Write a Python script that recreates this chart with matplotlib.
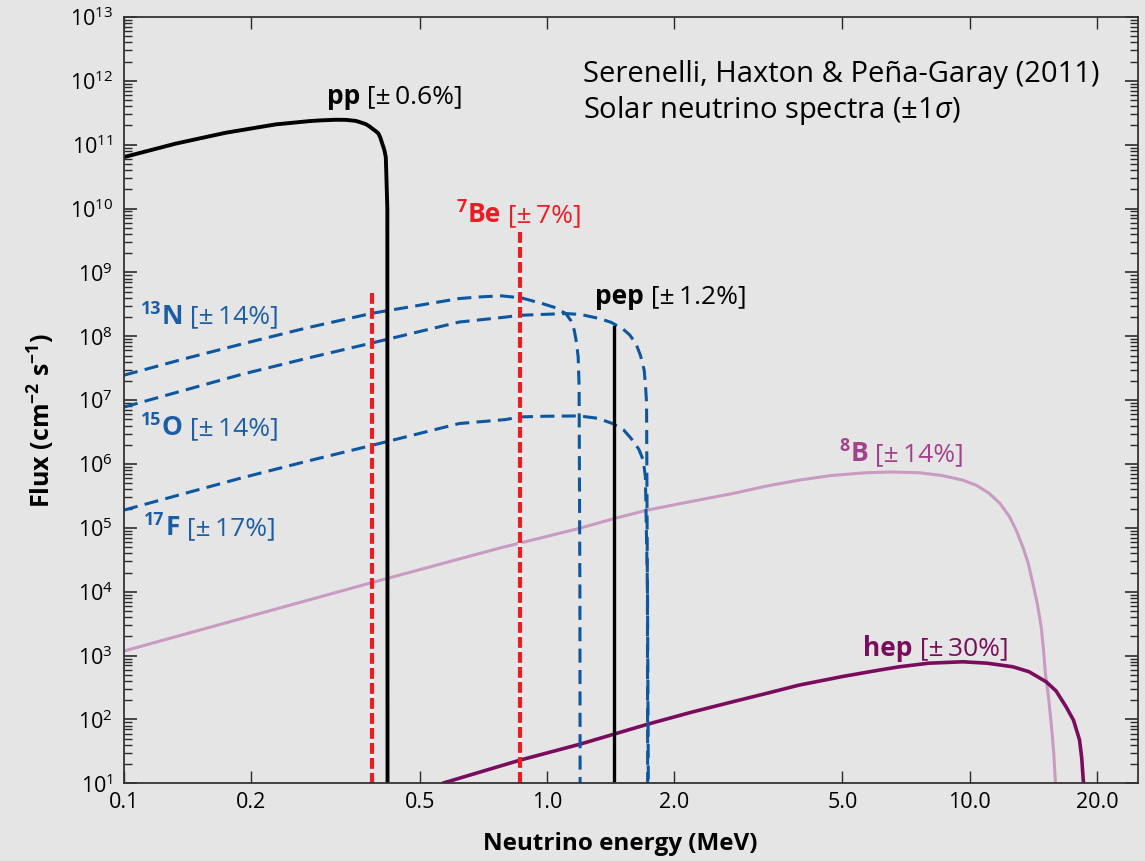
import numpy as np
import matplotlib
matplotlib.use("Agg")
import matplotlib.pyplot as plt
from matplotlib.ticker import FixedLocator, FixedFormatter, LogLocator, LogFormatterMathtext

plt.rcParams['font.family'] = ['Open Sans', 'DejaVu Sans']
plt.rcParams['mathtext.fontset'] = 'custom'
plt.rcParams['mathtext.rm'] = 'Open Sans'
plt.rcParams['mathtext.it'] = 'Open Sans:italic'
plt.rcParams['mathtext.bf'] = 'Open Sans:bold'

BG = '#e5e5e5'
BLUE = '#0d56a0'
BLUE_TXT = '#1a5ea8'
RED = '#ec1c24'
PINK = '#c99ac2'
PINK_TXT = '#a2418c'
HEP = '#7a0c5e'

pp_e = [0.1, 0.1325, 0.174, 0.2284, 0.274, 0.29, 0.3166, 0.335, 0.3532, 0.362, 0.373, 0.38,
        0.3868, 0.393, 0.3995, 0.404, 0.408, 0.4105, 0.413, 0.4145, 0.416, 0.4175, 0.4195, 0.42]
pp_f = [6.4e10, 1.04e11, 1.54e11, 2.08e11, 2.34e11, 2.4e11, 2.46e11, 2.45e11, 2.36e11, 2.25e11,
        2.1e11, 1.95e11, 1.78e11, 1.65e11, 1.5e11, 1.28e11, 1.04e11, 9.3e10, 8.1e10, 7.2e10,
        6.4e10, 3e10, 1e10, 1]

n13_e = [0.1, 0.14, 0.1905, 0.27, 0.387, 0.62, 0.70, 0.78, 0.87, 0.976, 1.04, 1.109, 1.14,
         1.161, 1.175, 1.186, 1.192, 1.197, 1.199]
n13_f = [2.46e7, 4.5e7, 7.6e7, 1.35e8, 2.3e8, 3.9e8, 4.15e8, 4.3e8, 4.0e8, 3.25e8, 2.85e8,
         2.27e8, 1.75e8, 1.24e8, 8e7, 4.7e7, 1.6e7, 1e4, 1]

o15_e = [0.1, 0.14, 0.1905, 0.27, 0.387, 0.62, 0.80, 0.86, 1.109, 1.2, 1.33, 1.42, 1.51, 1.57,
         1.624, 1.665, 1.699, 1.712, 1.721, 1.729, 1.732]
o15_f = [7.8e6, 1.45e7, 2.55e7, 4.5e7, 7.9e7, 1.67e8, 2.0e8, 2.13e8, 2.27e8, 2.2e8, 1.9e8,
         1.65e8, 1.32e8, 1.05e8, 7.7e7, 5e7, 2.94e7, 1.6e7, 8.9e6, 1e4, 1]

f17_e = [0.1, 0.14, 0.1905, 0.27, 0.387, 0.62, 0.80, 0.86, 1.0, 1.192, 1.32, 1.43, 1.52, 1.595,
         1.65, 1.69, 1.71, 1.73, 1.74]
f17_f = [1.9e5, 3.5e5, 6.1e5, 1.1e6, 1.97e6, 4.3e6, 4.97e6, 5.46e6, 5.6e6, 5.66e6, 5.2e6,
         4.3e6, 3.4e6, 2.36e6, 1.7e6, 1.15e6, 6.3e5, 1e4, 1]

b8_e = [0.1, 0.387, 0.771, 1.192, 1.443, 1.73, 2.2, 2.75, 3.3, 3.95, 4.7, 5.69, 6.5, 7.6, 8.6,
        9.63, 10.4, 11.13, 11.8, 12.42, 12.9, 13.35, 13.75, 14.1, 14.45, 14.76, 14.95, 15.1,
        15.35, 15.58, 15.8, 15.95, 16.1]
b8_f = [1.18e3, 1.4e4, 4.8e4, 9.8e4, 1.4e5, 1.9e5, 2.6e5, 3.45e5, 4.5e5, 5.6e5, 6.6e5, 7.3e5,
        7.5e5, 7.3e5, 6.6e5, 5.6e5, 4.6e5, 3.45e5, 2.4e5, 1.49e5, 9e4, 5.05e4, 2.8e4, 1.35e4,
        6.5e3, 2.8e3, 1.2e3, 525, 230, 87, 30, 10, 1]

hep_e = [0.566, 0.863, 1.198, 1.443, 1.74, 2.2, 2.75, 3.3, 3.95, 5.0, 6.11, 6.82, 8.0, 9.63,
         11.0, 12.64, 13.8, 15.16, 16.0, 16.9, 17.6, 18.18, 18.4, 18.58, 18.7]
hep_f = [10, 23, 41, 59, 85, 130, 189, 255, 345, 470, 593, 668, 760, 800, 760, 668, 560, 389,
         280, 158, 97, 48, 25, 10, 1]

# line sources: energy and top of the line
be7_e = [0.3855, 0.862]
be7_top = [4.8e8, 4.3e9]
pep_e = 1.442
pep_top = 1.4e8

xticks = [0.1, 0.2, 0.5, 1.0, 2.0, 5.0, 10.0, 20.0]
xticklabels = ['0.1', '0.2', '0.5', '1.0', '2.0', '5.0', '10.0', '20.0']

fig = plt.figure(figsize=(11.45, 8.61), dpi=100, facecolor=BG)
ax = fig.add_axes([124 / 1145, 77.7 / 861, 1014 / 1145, 766.3 / 861])
ax.set_facecolor(BG)
ax.set_xscale('log')
ax.set_yscale('log')
ax.set_xlim(0.1, 25)
ax.set_ylim(10, 1e13)

dash = (4.6, 2.4)
ax.plot(b8_e, b8_f, color=PINK, lw=2.2, solid_capstyle='butt', solid_joinstyle='round')
ax.plot(hep_e, hep_f, color=HEP, lw=2.6, solid_capstyle='butt', solid_joinstyle='round')
for e_, f_ in [(n13_e, n13_f), (o15_e, o15_f), (f17_e, f17_f)]:
    ax.plot(e_, f_, color=BLUE, lw=2.2, dashes=dash)
for e, top in zip(be7_e, be7_top):
    ax.plot([e, e], [top, 1], color=RED, lw=3.0, dashes=(2.6, 1.0), gapcolor='#f3eeee')
ax.plot([pep_e, pep_e], [pep_top, 1], color='black', lw=2.4)
ax.plot(pp_e, pp_f, color='black', lw=2.8, solid_joinstyle='round')


def tag(x, y, sup, name, rest, color, size=19):
    """Label written as superscript + bold name + regular bracket, on one baseline."""
    prev = None
    if sup:
        prev = ax.annotate(sup, xy=(x, y), xycoords='data', xytext=(0, 0.38 * size),
                           textcoords='offset points', fontsize=0.68 * size,
                           fontweight='bold', color=color, va='baseline', ha='left')
    if prev is None:
        prev = ax.text(x, y, name, fontsize=size, fontweight='bold', color=color,
                       va='baseline', ha='left')
    else:
        prev = ax.annotate(name, xy=(1, y), xycoords=(prev, 'data'), xytext=(0.5, 0),
                           textcoords='offset points', fontsize=size, fontweight='bold',
                           color=color, va='baseline', ha='left')
    ax.annotate(rest, xy=(1, y), xycoords=(prev, 'data'), xytext=(0, 0),
                textcoords='offset points', fontsize=size, color=color,
                va='baseline', ha='left')


tag(0.302, 4.4e11, '', 'pp', ' [±\u20090.6%]', 'black')
tag(0.613, 6.15e9, '7', 'Be', ' [±\u20097%]', RED)
tag(1.301, 3.25e8, '', 'pep', ' [±\u20091.2%]', 'black')
tag(0.1095, 1.58e8, '13', 'N', ' [±\u200914%]', BLUE_TXT)
tag(0.1095, 2.83e6, '15', 'O', ' [±\u200914%]', BLUE_TXT)
tag(0.1115, 7.7e4, '17', 'F', ' [±\u200917%]', BLUE_TXT)
tag(4.92, 1.1e6, '8', 'B', ' [±\u200914%]', PINK_TXT)
tag(5.60, 995, '', 'hep', ' [±\u200930%]', HEP)

ax.text(0.4527, 0.944, 'Serenelli, Haxton & Peña-Garay (2011)\nSolar neutrino spectra (±1$\\sigma$)',
        transform=ax.transAxes, fontsize=21, va='top', ha='left', linespacing=1.2)

# axes, ticks
ax.xaxis.set_major_locator(FixedLocator(xticks))
ax.xaxis.set_major_formatter(FixedFormatter(xticklabels))
ax.xaxis.set_minor_locator(FixedLocator([]))
ax.yaxis.set_major_locator(LogLocator(base=10, numticks=20))
ax.yaxis.set_minor_locator(LogLocator(base=10, subs=np.arange(2, 10), numticks=20))
ax.yaxis.set_major_formatter(LogFormatterMathtext())
ax.tick_params(axis='both', which='both', direction='in', top=True, right=True,
               color='#2a2a2a', labelsize=15.5)
ax.tick_params(axis='x', which='major', length=8.6, width=1.0, pad=6)
ax.tick_params(axis='y', which='major', length=9.4, width=1.2, pad=8)
ax.tick_params(axis='y', which='minor', length=5.8, width=1.0)
for s in ax.spines.values():
    s.set_color('#333333')
    s.set_linewidth(1.3)

ax.set_xlabel('Neutrino energy (MeV)', fontsize=17.5, fontweight='bold')
ax.set_ylabel('Flux (cm$\\mathbf{^{-2}}$ s$\\mathbf{^{-1}}$)', fontsize=18, fontweight='bold')
ax.xaxis.set_label_coords(0.489, -0.0636)
ax.yaxis.set_label_coords(-0.066, 0.474)

fig.savefig('out.png', dpi=100, facecolor=BG)
